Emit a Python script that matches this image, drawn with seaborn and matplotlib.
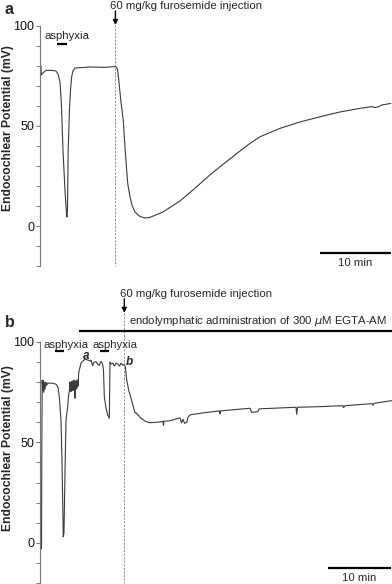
import matplotlib
matplotlib.use("Agg")
import matplotlib.pyplot as plt
import seaborn as sns
import pandas as pd

# panel a: time (min) and endocochlear potential (mV)
time_a = [0.14, 0.18, 0.42, 0.85, 1.69, 2.25, 2.54, 2.82, 3.03, 3.24, 3.52, 3.73, 3.80,
          3.87, 3.97, 4.15, 4.30, 4.46, 4.65, 4.93, 7.04, 9.15, 10.42, 10.70, 10.92, 11.13,
          11.41, 11.73, 11.97, 12.21, 12.37, 12.68, 12.96, 13.38, 14.08, 14.79, 15.49,
          17.32, 19.72, 21.55, 23.94, 25.35, 27.46, 29.58, 30.99, 33.80, 36.62, 39.44,
          42.25, 45.07, 46.76, 47.18, 47.61, 48.17, 49.44]
ep_a = [80, 75.5, 76.5, 77.8, 77.8, 77.5, 76, 72, 60, 38, 18, 6, 4.5,
        8, 38, 58, 68, 74.5, 77.5, 79, 79.5, 79.3, 79.7, 79.6, 78.5, 72,
        62, 53, 40, 28, 21, 14.7, 10.5, 7, 4.8, 4, 4.3,
        7, 12.5, 18, 25.5, 29.6, 35.5, 41.3, 44.6, 48.8, 52, 54.6,
        57, 58.8, 59.7, 59.2, 59.5, 60.5, 61.3]

# panel b
time_b = [0.24, 0.28, 0.35, 0.43, 0.51, 0.58, 0.66, 0.79, 0.92, 1.03, 1.26, 1.90, 2.53,
          2.84, 3.05, 3.32, 3.48, 3.68, 3.79, 3.95, 4.11, 4.38, 4.50, 4.66,
          4.74, 4.82, 4.90, 4.98, 5.06, 5.13, 5.21, 5.29, 5.37, 5.45, 5.53, 5.61,
          5.69, 5.77, 5.85, 5.96, 6.03, 6.11, 6.32, 6.48, 6.79, 7.11, 7.58, 7.90,
          8.06, 8.33, 8.53, 8.85, 9.08, 9.37, 9.56, 9.75, 9.91, 10.03, 10.16,
          10.43, 10.70, 10.95, 11.06, 11.22, 11.53, 11.77, 12.01, 12.32, 12.56,
          12.80, 13.11, 13.32, 13.48, 13.70, 14.01, 14.38, 14.74, 15.01, 15.17,
          15.96, 16.75, 17.38, 18.96, 19.43, 19.51, 19.59, 20.54, 22.12, 22.35,
          22.59, 22.83, 23.18, 23.38, 23.70, 25.28, 28.36, 28.44, 28.52, 32.07,
          33.18, 33.44, 34.28, 34.49, 34.60, 40.44, 40.55, 40.68, 44.23, 47.87,
          47.95, 48.18, 52.45, 52.61, 52.76, 55.56]
ep_b = [-3, 40, 81, 76, 81, 75, 80, 76.5, 80, 78.5, 79.5, 79.5, 79,
        77.5, 72.8, 61, 40, 3, 5, 35, 61, 68, 73, 76,
        80, 75.5, 80, 75.5, 80.5, 76, 80.5, 76, 81, 76.5, 72, 80.5,
        76.5, 81, 77, 81, 78, 84.6, 87.5, 89.6, 90.5, 91.5, 91, 90.5,
        91, 88.2, 90, 90.2, 89, 88.3, 90, 90.2, 88.5, 86, 72.8,
        67, 63.7, 62, 90, 89, 89.5, 88, 89.5, 89, 88,
        89.5, 88.3, 89, 87.7, 81, 76, 72, 67.8, 64.7, 64.8,
        62, 60.3, 59.8, 60.2, 60.5, 58.5, 60.5, 60.8, 62.2, 59.7,
        61.5, 59.5, 60, 62.5, 63.7, 64.5, 65.7, 64.2, 65.7, 66.7,
        67, 65, 65.2, 65.6, 66.7, 67.5, 64, 67.5, 67.8, 68.3,
        67.3, 68.3, 69.3, 68.5, 69.5, 70.8]

furosemide_a = 10.63
furosemide_b = 13.32
asphyxia_a = [(2.39, 3.80)]
asphyxia_b = [(2.37, 3.79), (9.48, 10.90)]
egta_start = 6.16
scalebar_a = (39.4, 49.4)
scalebar_b = (45.45, 55.45)

sns.set_style("white")
plt.rcParams["font.family"] = ["Liberation Sans", "DejaVu Sans"]

fig = plt.figure(figsize=(3.92, 5.84), dpi=100)
ax_a = fig.add_axes([0.102, 0.5445, 0.898, 0.411])
ax_b = fig.add_axes([0.102, 0.0017, 0.898, 0.4127])

line_col = "#3a3a3a"
spine_col = "#777777"
fs = 8.2


def style_axis(ax, xmax, label_y):
    ax.set_xlim(0, xmax)
    ax.set_ylim(-20, 100)
    for s in ["top", "right", "bottom"]:
        ax.spines[s].set_visible(False)
    ax.spines["left"].set_color(spine_col)
    ax.spines["left"].set_linewidth(0.8)
    ax.set_xticks([])
    ax.set_yticks(range(-20, 101, 10))
    ax.set_yticklabels(["100" if v == 100 else "50" if v == 50 else "0" if v == 0 else ""
                        for v in range(-20, 101, 10)])
    ax.tick_params(axis="y", left=True, length=3, width=0.7, color=spine_col,
                   labelsize=9, pad=1, labelcolor="#111111")
    ax.set_xlabel("")
    ax.set_ylabel("Endocochlear Potential (mV)", fontsize=8.7, fontweight="bold")
    ax.yaxis.set_label_coords(-0.075, label_y)


def furosemide(ax, t, text_y, arrow_top, arrow_tip):
    ax.annotate("", xy=(t, arrow_tip), xytext=(t, arrow_top),
                arrowprops=dict(arrowstyle="-|>", color="black", lw=1.0,
                                mutation_scale=7, shrinkA=0, shrinkB=0),
                annotation_clip=False)
    ax.text(t - 0.7, text_y, "60 mg/kg furosemide injection", fontsize=fs,
            ha="left", va="center", clip_on=False)
    ax.plot([t, t], [arrow_tip, -20], ls=(0, (2.5, 1.8)), lw=0.6, color="#777777",
            clip_on=False)


def scalebar(ax, bar, y_bar, y_text):
    ax.plot(list(bar), [y_bar, y_bar], color="black", lw=1.6, clip_on=False,
            solid_capstyle="butt")
    ax.text(sum(bar) / 2, y_text, "10 min", fontsize=fs, ha="center", va="center",
            clip_on=False)


# panel a
df_a = pd.DataFrame({"time": time_a, "ep": ep_a})
sns.lineplot(data=df_a, x="time", y="ep", ax=ax_a, sort=False, estimator=None,
             color=line_col, lw=0.8)
style_axis(ax_a, 49.6, 0.575)
furosemide(ax_a, furosemide_a, 110, 107.5, 100.5)
for t0, t1 in asphyxia_a:
    ax_a.plot([t0, t1], [91, 91], color="black", lw=1.6, solid_capstyle="butt")
ax_a.text(0.7, 95.2, "asphyxia", fontsize=fs, ha="left", va="center")
scalebar(ax_a, scalebar_a, -13.5, -18.3)
fig.text(0.012, 0.983, "a", fontsize=11.5, fontweight="bold", ha="left", va="center")

# panel b
df_b = pd.DataFrame({"time": time_b, "ep": ep_b})
sns.lineplot(data=df_b, x="time", y="ep", ax=ax_b, sort=False, estimator=None,
             color=line_col, lw=0.8)
style_axis(ax_b, 55.6, 0.56)
furosemide(ax_b, furosemide_b, 124, 121.5, 114.5)
ax_b.plot([egta_start, 55.6], [105.5, 105.5], color="black", lw=1.6, clip_on=False,
          solid_capstyle="butt")
ax_b.text(14.1, 110.3, "endolymphatic administration of 300 $\\mu$M EGTA-AM",
          fontsize=fs, ha="left", va="center", clip_on=False)
for t0, t1 in asphyxia_b:
    ax_b.plot([t0, t1], [95.5, 95.5], color="black", lw=1.6, solid_capstyle="butt",
              clip_on=False)
ax_b.text(0.6, 98.6, "asphyxia", fontsize=fs, ha="left", va="center", clip_on=False)
ax_b.text(8.3, 98.6, "asphyxia", fontsize=fs, ha="left", va="center", clip_on=False)
ax_b.text(7.3, 93, "a", fontsize=fs + 0.3, style="italic", fontweight="bold",
          ha="center", va="center")
ax_b.text(14.1, 90, "b", fontsize=fs + 0.3, style="italic", fontweight="bold",
          ha="center", va="center")
scalebar(ax_b, scalebar_b, -12.4, -17.6)
fig.text(0.012, 0.447, "b", fontsize=11.5, fontweight="bold", ha="left", va="center")

fig.savefig("out.png", dpi=100)
